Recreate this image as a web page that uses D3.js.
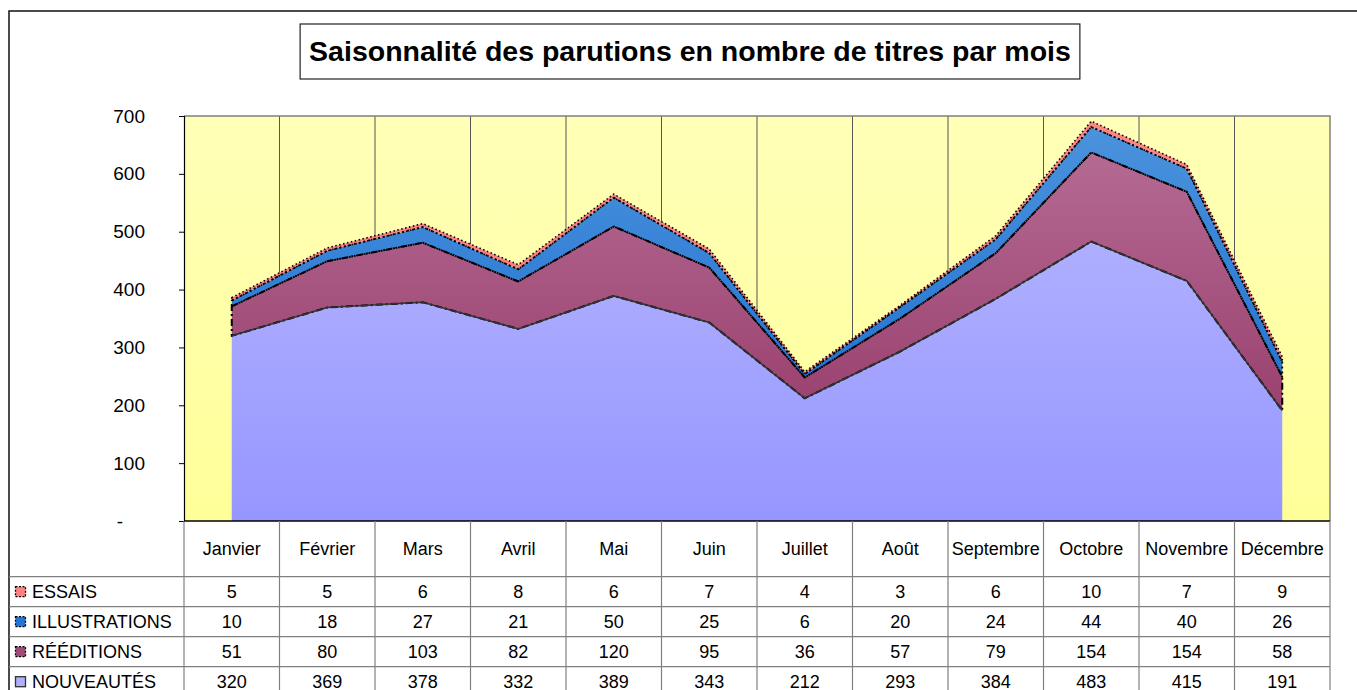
<!DOCTYPE html>
<html>
<head>
<meta charset="utf-8">
<script src="https://cdn.jsdelivr.net/npm/d3@7"></script>
<style>
  body { margin: 0; background: #fff; }
  svg { display: block; font-family: "Liberation Sans", Arial, sans-serif; }
</style>
</head>
<body>
<svg width="1357" height="690"></svg>
<script>
// data
const months = ["Janvier", "Février", "Mars", "Avril", "Mai", "Juin", "Juillet", "Août", "Septembre", "Octobre", "Novembre", "Décembre"];
const nouveautes = [320, 369, 378, 332, 389, 343, 212, 293, 384, 483, 415, 191];
const reeditions = [51, 80, 103, 82, 120, 95, 36, 57, 79, 154, 154, 58];
const illustrations = [10, 18, 27, 21, 50, 25, 6, 20, 24, 44, 40, 26];
const essais = [5, 5, 6, 8, 6, 7, 4, 3, 6, 10, 7, 9];
const yTicks = [0, 100, 200, 300, 400, 500, 600, 700];
const title = "Saisonnalité des parutions en nombre de titres par mois";

// stack order (bottom -> top) and table order (top -> bottom)
const keys = ["NOUVEAUTÉS", "RÉÉDITIONS", "ILLUSTRATIONS", "ESSAIS"];
const tableOrder = ["ESSAIS", "ILLUSTRATIONS", "RÉÉDITIONS", "NOUVEAUTÉS"];
const values = {"NOUVEAUTÉS": nouveautes, "RÉÉDITIONS": reeditions, "ILLUSTRATIONS": illustrations, "ESSAIS": essais};

const style = {
  "NOUVEAUTÉS":    {grad: ["#BABAFF", "#9696FF"], stroke: "#333", dash: null, sw: 1.6, legend: "#B0B0FF"},
  "RÉÉDITIONS":    {grad: ["#B87098", "#8F2F60"], stroke: "#000", dash: "7,3,2,3", sw: 2, legend: "#A04A78"},
  "ILLUSTRATIONS": {grad: ["#4D94DD", "#0F63CC"], stroke: "#000", dash: "2,3", sw: 1.8, legend: "#2277D5"},
  "ESSAIS":        {grad: ["#FF8585", "#FF7777"], stroke: "#000", dash: "1.5,2.5", sw: 1.6, legend: "#FF8080"}
};

const table = months.map((m, i) => {
  const row = {month: m};
  keys.forEach(k => row[k] = values[k][i]);
  return row;
});

const plotL = 184, plotR = 1330, plotT = 116, plotB = 521;
const headerB = 576.7, rowH = 30;

const svg = d3.select("svg");
const defs = svg.append("defs");

// plot background gradient
const bg = defs.append("linearGradient").attr("id", "bg")
  .attr("gradientUnits", "userSpaceOnUse")
  .attr("x1", 0).attr("x2", 0).attr("y1", plotT).attr("y2", plotB);
bg.append("stop").attr("offset", 0).attr("stop-color", "#FFFFB8");
bg.append("stop").attr("offset", 1).attr("stop-color", "#FFFF99");

keys.forEach((k, i) => {
  const g = defs.append("linearGradient").attr("id", "g" + i)
    .attr("gradientUnits", "userSpaceOnUse")
    .attr("x1", 0).attr("x2", 0).attr("y1", plotT).attr("y2", plotB);
  g.append("stop").attr("offset", 0).attr("stop-color", style[k].grad[0]);
  g.append("stop").attr("offset", 1).attr("stop-color", style[k].grad[1]);
});

// outer chart border
svg.append("rect")
  .attr("x", 9).attr("y", 11).attr("width", 1360).attr("height", 700)
  .attr("fill", "none").attr("stroke", "#111").attr("stroke-width", 1.5);

// title box
const titleG = svg.append("g");
const titleText = titleG.append("text")
  .attr("x", 690).attr("y", 61)
  .attr("text-anchor", "middle")
  .attr("font-size", "28.5px")
  .attr("font-weight", "bold")
  .text(title);
const tw = titleText.node().getComputedTextLength();
titleG.insert("rect", "text")
  .attr("x", 690 - tw / 2 - 9).attr("y", 24)
  .attr("width", tw + 18).attr("height", 55)
  .attr("fill", "#fff").attr("stroke", "#222").attr("stroke-width", 1.2);

const x = d3.scaleBand().domain(months).range([plotL, plotR]).padding(0);
const y = d3.scaleLinear().domain([0, 700]).range([plotB, plotT]);
const cx = m => x(m) + x.bandwidth() / 2;

// plot area
svg.append("rect")
  .attr("x", plotL).attr("y", plotT)
  .attr("width", plotR - plotL).attr("height", plotB - plotT)
  .attr("fill", "url(#bg)");

// vertical gridlines at category edges
svg.append("g").selectAll("line")
  .data(months.slice(1))
  .join("line")
  .attr("x1", d => x(d)).attr("x2", d => x(d))
  .attr("y1", plotT).attr("y2", plotB)
  .attr("stroke", "#555").attr("stroke-width", 1);

const stack = d3.stack().keys(keys);
const series = stack(table);

const area = d3.area()
  .x(d => cx(d.data.month))
  .y0(d => y(d[0]))
  .y1(d => y(d[1]));

const topLine = d3.line()
  .x(d => cx(d.data.month))
  .y(d => y(d[1]));

// fills
svg.append("g").selectAll("path")
  .data(series)
  .join("path")
  .attr("d", area)
  .attr("fill", (d, i) => `url(#g${i})`);

// outlines (stacked series above the first one)
svg.append("g").selectAll("path")
  .data(series.slice(1))
  .join("path")
  .attr("d", area)
  .attr("fill", "none")
  .attr("stroke", d => style[d.key].stroke)
  .attr("stroke-width", d => style[d.key].sw)
  .attr("stroke-dasharray", d => style[d.key].dash)
  .attr("stroke-linejoin", "round");

// solid top line of the bottom series
svg.append("path")
  .datum(series[0])
  .attr("d", topLine)
  .attr("fill", "none")
  .attr("stroke", style[keys[0]].stroke)
  .attr("stroke-width", style[keys[0]].sw);

// plot border (top/right)
svg.append("path")
  .attr("d", `M${plotL},${plotT}H${plotR}V${plotB}`)
  .attr("fill", "none").attr("stroke", "#808080").attr("stroke-width", 1.5);

// y axis
const yAxis = svg.append("g")
  .attr("transform", `translate(${plotL},0)`)
  .call(d3.axisLeft(y).tickValues(yTicks).tickSize(5).tickPadding(34)
    .tickFormat(d => d === 0 ? "-" : d));
yAxis.select(".domain").attr("stroke", "#000").attr("stroke-width", 1.2);
yAxis.selectAll(".tick line").attr("stroke", "#000");
yAxis.selectAll(".tick text")
  .attr("font-size", "19px")
  .attr("font-family", "Liberation Sans, Arial, sans-serif")
  .attr("fill", "#000");
yAxis.selectAll(".tick").filter(d => d === 0).select("text").attr("dx", -22);

// x axis baseline
svg.append("line")
  .attr("x1", plotL).attr("x2", plotR).attr("y1", plotB).attr("y2", plotB)
  .attr("stroke", "#000").attr("stroke-width", 1.5);

// data table
const rowY = d3.scaleBand().domain(tableOrder).range([headerB, headerB + rowH * tableOrder.length]);
const tbl = svg.append("g");

// horizontal lines
tbl.selectAll("line.h")
  .data(tableOrder)
  .join("line").attr("class", "h")
  .attr("x1", 9).attr("x2", plotR)
  .attr("y1", d => rowY(d)).attr("y2", d => rowY(d))
  .attr("stroke", "#808080").attr("stroke-width", 1.2);

// vertical lines
tbl.selectAll("line.v")
  .data(months.concat(["end"]))
  .join("line").attr("class", "v")
  .attr("x1", d => d === "end" ? plotR : x(d))
  .attr("x2", d => d === "end" ? plotR : x(d))
  .attr("y1", plotB).attr("y2", 700)
  .attr("stroke", "#808080").attr("stroke-width", 1.2);

// month headers
tbl.selectAll("text.month")
  .data(months)
  .join("text").attr("class", "month")
  .attr("x", d => cx(d))
  .attr("y", (plotB + headerB) / 2 + 6.5)
  .attr("text-anchor", "middle")
  .attr("font-size", "18px")
  .text(d => d);

// value rows
tableOrder.forEach(k => {
  const yy = rowY(k) + rowY.bandwidth() / 2 + 6.5;
  tbl.append("g").selectAll("text")
    .data(values[k])
    .join("text")
    .attr("x", (d, i) => cx(months[i]))
    .attr("y", yy)
    .attr("text-anchor", "middle")
    .attr("font-size", "18px")
    .text(d => d);

  // legend key
  tbl.append("rect")
    .attr("x", 15.5).attr("y", rowY(k) + rowY.bandwidth() / 2 - 5)
    .attr("width", 10).attr("height", 10)
    .attr("fill", style[k].legend)
    .attr("stroke", k === "NOUVEAUTÉS" ? "#333" : "#000")
    .attr("stroke-width", 1.3)
    .attr("stroke-dasharray", k === "NOUVEAUTÉS" ? null : "2,1.5");

  tbl.append("text")
    .attr("x", 32)
    .attr("y", yy)
    .attr("font-size", "18px")
    .text(k);
});
</script>
</body>
</html>
